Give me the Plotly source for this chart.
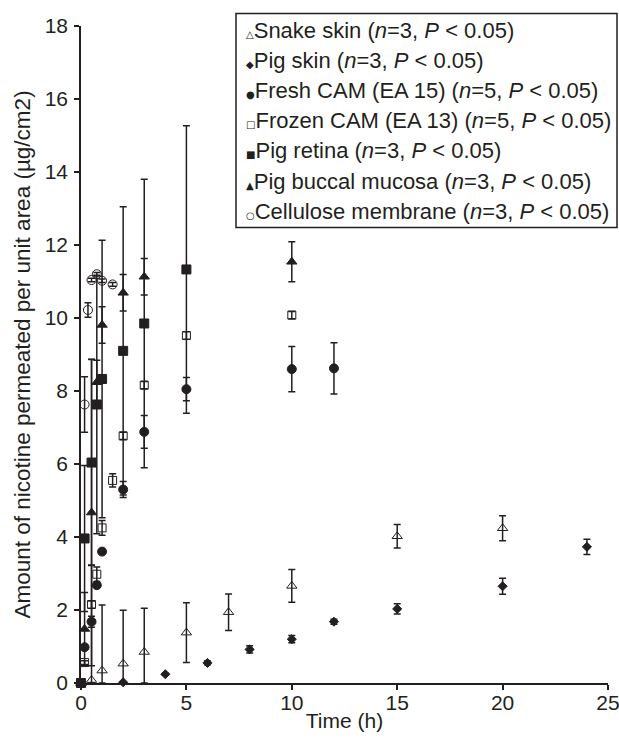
import plotly.graph_objects as go

# ---- data ----
snake_t = [0, 0.5, 1, 2, 3, 5, 7, 10, 15, 20]
snake_y = [0, 0.08, 0.34, 0.53, 0.85, 1.38, 1.94, 2.66, 4.02, 4.24]
snake_e = [0, 3.15, 1.8, 1.46, 1.2, 0.82, 0.5, 0.45, 0.32, 0.34]

pigskin_t = [0, 2, 4, 6, 8, 10, 12, 15, 20, 24]
pigskin_y = [0, 0.02, 0.24, 0.55, 0.92, 1.2, 1.68, 2.03, 2.65, 3.73]
pigskin_e = [0, 0, 0.03, 0.05, 0.1, 0.1, 0.07, 0.14, 0.22, 0.21]

fresh_t = [0, 0.17, 0.5, 0.75, 1, 2, 3, 5, 10, 12]
fresh_y = [0, 0.98, 1.68, 2.68, 3.6, 5.3, 6.88, 8.05, 8.6, 8.62]
fresh_e = [0, 0.05, 0.15, 0.05, 0.05, 0.22, 0.45, 0.32, 0.62, 0.7]

frozen_t = [0, 0.17, 0.5, 0.75, 1, 1.5, 2, 3, 5, 10]
frozen_y = [0, 0.56, 2.15, 2.98, 4.25, 5.55, 6.77, 8.16, 9.52, 10.08]
frozen_e = [0, 0.05, 0.1, 0.2, 0.2, 0.18, 0.1, 0.1, 0.1, 0.1]

retina_t = [0, 0.17, 0.5, 0.75, 1, 2, 3, 5]
retina_y = [0, 3.96, 6.04, 7.63, 8.33, 9.1, 9.85, 11.33]
retina_e = [0, 2.0, 2.82, 3.54, 3.8, 3.95, 3.95, 3.94]

buccal_t = [0, 0.17, 0.5, 0.75, 1, 2, 3, 10]
buccal_y = [0, 1.48, 4.67, 8.24, 9.81, 10.69, 11.13, 11.54]
buccal_e = [0, 1.0, 4.2, 0.6, 0.5, 0.5, 0.5, 0.55]

cell_t = [0, 0.17, 0.33, 0.5, 0.75, 1, 1.5]
cell_y = [0, 7.63, 10.22, 11.04, 11.2, 11.02, 10.92]
cell_e = [0, 0.76, 0.2, 0.05, 0.05, 0.05, 0.05]

names = [
    "Snake skin (<i>n</i>=3, <i>P</i> &lt; 0.05)",
    "Pig skin (<i>n</i>=3, <i>P</i> &lt; 0.05)",
    "Fresh CAM (EA 15) (<i>n</i>=5, <i>P</i> &lt; 0.05)",
    "Frozen CAM (EA 13) (<i>n</i>=5, <i>P</i> &lt; 0.05)",
    "Pig retina (<i>n</i>=3, <i>P</i> &lt; 0.05)",
    "Pig buccal mucosa (<i>n</i>=3, <i>P</i> &lt; 0.05)",
    "Cellulose membrane (<i>n</i>=3, <i>P</i> &lt; 0.05)",
]
legend_glyphs = ["\u25B3", "\u25C6", "\u25CF", "\u25A1", "\u25A0", "\u25B2", "\u25CB"]

INK = "#231f20"
FONT = "Liberation Sans, Arial, sans-serif"

series = [
    (snake_t, snake_y, snake_e, "triangle-up-open", 9),
    (pigskin_t, pigskin_y, pigskin_e, "diamond", 7),
    (fresh_t, fresh_y, fresh_e, "circle", 9),
    (frozen_t, frozen_y, frozen_e, "square-open", 8),
    (retina_t, retina_y, retina_e, "square", 9),
    (buccal_t, buccal_y, buccal_e, "triangle-up", 9),
    (cell_t, cell_y, cell_e, "circle-open", 9),
]

fig = go.Figure()
for (t, y, e, sym, sz), nm in zip(series, names):
    fig.add_trace(go.Scatter(
        x=t, y=y, mode="markers", name=nm.replace("&lt;", "<"),
        marker=dict(symbol=sym, size=sz, color=INK, line=dict(color=INK, width=1)),
        error_y=dict(type="data", array=e, arrayminus=[min(a, b) for a, b in zip(e, y)],
                     color=INK, thickness=1.5, width=3.5, visible=True),
        cliponaxis=False, showlegend=False,
    ))

# ---- legend box drawn in paper coordinates ----
W, H = 619, 741
ML, MR, MT, MB = 81, 11, 26, 58
PW, PH = W - ML - MR, H - MT - MB
px = lambda v: (v - ML) / PW
py = lambda v: (H - MB - v) / PH

fig.add_shape(type="rect", xref="paper", yref="paper",
              x0=px(236), x1=px(617), y0=py(227.5), y1=py(13.5),
              line=dict(color=INK, width=1.5), fillcolor="white", layer="above")
for i, (g, nm) in enumerate(zip(legend_glyphs, names)):
    fig.add_annotation(
        xref="paper", yref="paper", x=px(244), y=py(30 + 30.2 * i),
        xanchor="left", yanchor="middle", showarrow=False,
        text=f'<span style="font-family:DejaVu Sans;font-size:10px">{g}</span>{nm}',
        font=dict(family=FONT, size=22, color=INK),
    )

fig.update_layout(
    width=W, height=H,
    margin=dict(l=ML, r=MR, t=MT, b=MB, autoexpand=False),
    paper_bgcolor="white", plot_bgcolor="white",
    font=dict(family=FONT, size=21, color=INK),
    showlegend=False,
    xaxis=dict(
        range=[0, 25], tickvals=[0, 5, 10, 15, 20, 25],
        showline=True, linecolor=INK, linewidth=1.5,
        ticks="outside", ticklen=5, tickwidth=1.5, tickcolor=INK,
        ticklabelstandoff=-5, ticklabeloverflow="allow", automargin=False,
        showgrid=False, zeroline=False,
        title=dict(text="Time (h)", font=dict(size=21), standoff=0),
    ),
    yaxis=dict(
        range=[0, 18], tickvals=list(range(0, 19, 2)),
        showline=True, linecolor=INK, linewidth=1.5,
        ticks="outside", ticklen=5, tickwidth=1.5, tickcolor=INK,
        ticklabelstandoff=2, automargin=False,
        showgrid=False, zeroline=False,
        title=dict(text="Amount of nicotine permeated per unit area (µg/cm2)",
                   font=dict(size=22.5), standoff=8),
    ),
)

fig.write_html(
    "out.html",
    config={"displayModeBar": False},
    post_script="document.body.style.margin='0';document.documentElement.style.overflow='hidden';",
)
